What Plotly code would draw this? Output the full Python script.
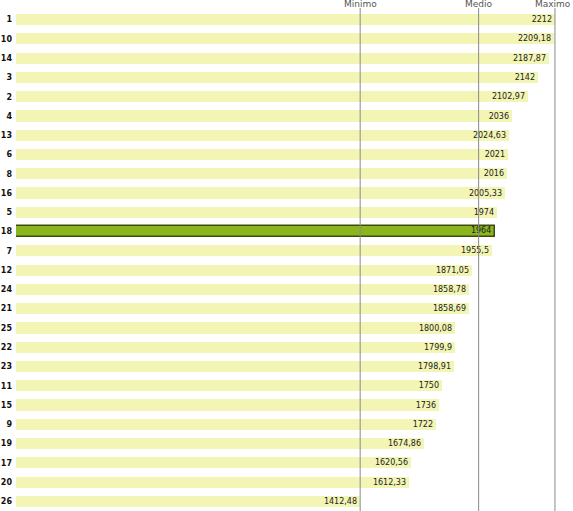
import plotly.graph_objects as go

categories = ["1", "10", "14", "3", "2", "4", "13", "6", "8", "16", "5", "18", "7",
              "12", "24", "21", "25", "22", "23", "11", "15", "9", "19", "17", "20", "26"]
values = [2212, 2209.18, 2187.87, 2142, 2102.97, 2036, 2024.63, 2021, 2016, 2005.33,
          1974, 1964, 1955.5, 1871.05, 1858.78, 1858.69, 1800.08, 1799.9, 1798.91,
          1750, 1736, 1722, 1674.86, 1620.56, 1612.33, 1412.48]
highlight = "18"
ref_labels = ["Minimo", "Medio", "Maximo"]

v_min = min(values)
v_max = max(values)
v_mean = sum(values) / len(values)
ref_values = [v_min, v_mean, v_max]


def fmt(v):
    s = ("%.2f" % v).rstrip("0").rstrip(".")
    return s.replace(".", ",")


colors = ["#8ab51c" if c == highlight else "#f2f5b4" for c in categories]
line_colors = ["#3f4a12" if c == highlight else "rgba(0,0,0,0)" for c in categories]
line_widths = [1.5 if c == highlight else 0 for c in categories]

fig = go.Figure()
fig.add_trace(go.Bar(
    x=values, y=categories, orientation="h",
    marker=dict(color=colors, line=dict(color=line_colors, width=line_widths)),
    width=0.58,
    text=[fmt(v) for v in values],
    textposition="inside", insidetextanchor="end",
    textfont=dict(family="DejaVu Sans", size=8, color="#222222"),
    constraintext="none",
    cliponaxis=False,
    hoverinfo="skip",
))

shapes = []
annotations = []
for lab, rv in zip(ref_labels, ref_values):
    shapes.append(dict(type="line", xref="x", yref="paper", x0=rv, x1=rv, y0=0, y1=1.004,
                       line=dict(color="#8a8a8a", width=1), layer="above"))
    is_last = rv == v_max
    annotations.append(dict(x=rv, xref="x", y=1, yref="paper", text=lab, showarrow=False,
                            yanchor="bottom", yshift=-1,
                            xanchor="right" if is_last else "center",
                            xshift=18 if is_last else 0,
                            font=dict(family="DejaVu Sans", size=9, color="#555555")))

fig.update_layout(
    width=573, height=511,
    margin=dict(l=16, r=0, t=10, b=0),
    paper_bgcolor="white", plot_bgcolor="white",
    showlegend=False,
    bargap=0,
    shapes=shapes,
    annotations=annotations,
    xaxis=dict(range=[0, 2286], visible=False, fixedrange=True),
    yaxis=dict(type="category", categoryorder="array", categoryarray=categories,
               autorange="reversed", showgrid=False, zeroline=False, ticks="",
               ticklabelstandoff=3,
               tickfont=dict(family="DejaVu Sans", size=8, color="#111111", weight="bold")),
    uniformtext=dict(minsize=8, mode="show"),
)

fig.write_html("out.html")
